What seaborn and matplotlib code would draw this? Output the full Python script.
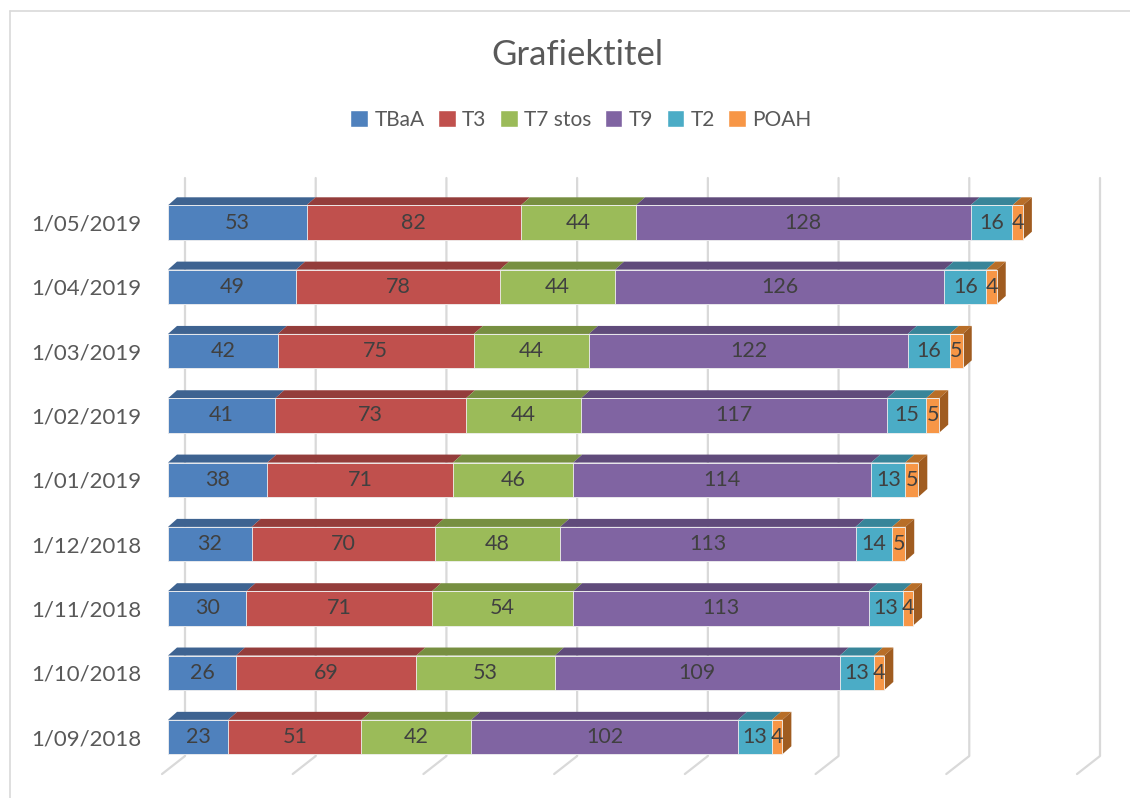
import numpy as np
import pandas as pd
import seaborn as sns
import matplotlib.pyplot as plt
from matplotlib.patches import Polygon, Patch
from matplotlib.lines import Line2D


dates = ['1/05/2019', '1/04/2019', '1/03/2019', '1/02/2019', '1/01/2019',
         '1/12/2018', '1/11/2018', '1/10/2018', '1/09/2018']
series = ['TBaA', 'T3', 'T7 stos', 'T9', 'T2', 'POAH']
tbaa = [53, 49, 42, 41, 38, 32, 30, 26, 23]
t3 = [82, 78, 75, 73, 71, 70, 71, 69, 51]
t7 = [44, 44, 44, 44, 46, 48, 54, 53, 42]
t9 = [128, 126, 122, 117, 114, 113, 113, 109, 102]
t2 = [16, 16, 16, 15, 13, 14, 13, 13, 13]
poah = [4, 4, 5, 5, 5, 5, 4, 4, 4]
grid_vals = [0, 50, 100, 150, 200, 250, 300, 350]

front = ['#4F81BD', '#C0504D', '#9BBB59', '#8064A2', '#4BACC6', '#F79646']
top = ['#3E6391', '#943D3B', '#778F41', '#604B7B', '#388599', '#B86E28']
side = '#A05C20'

sns.set_style("white")
plt.rcParams['font.family'] = ['Lato', 'DejaVu Sans']

df = pd.DataFrame({'date': dates, 'TBaA': tbaa, 'T3': t3, 'T7 stos': t7,
                   'T9': t9, 'T2': t2, 'POAH': poah})
cum = df[series].cumsum(axis=1)

fig = plt.figure(figsize=(11.3, 7.98), dpi=100)
ax = fig.add_axes([168 / 1130, 1 - 775 / 798, 915 / 1130, 597 / 798])

bar_h = 0.535
dx = 9 / 2.614      # depth shift in data units
dy = 8 / 64.3

# back wall gridlines with floor diagonal
y_top, y_wall, y_floor = -0.692, 8.295, 8.575
for v in grid_vals:
    xb = v + 6.5
    ax.add_line(Line2D([xb, xb, v - 2.3], [y_top, y_wall, y_floor],
                       color='#D9D9D9', lw=1.6, clip_on=False, zorder=0))

# stacked bars: draw cumulative totals from last to first
for i in range(len(series) - 1, -1, -1):
    sns.barplot(x=cum[series[i]], y=df['date'], orient='h', color=front[i],
                width=bar_h, saturation=1, edgecolor='#F2F2F2', linewidth=0.6,
                ax=ax, zorder=2)

# 3D top faces, right side face and labels
for j in range(len(dates)):
    yt = j - bar_h / 2
    yb = j + bar_h / 2
    left = 0
    for i, s in enumerate(series):
        val = df.loc[j, s]
        right = left + val
        ax.add_patch(Polygon([(left, yt), (left + dx, yt - dy),
                              (right + dx, yt - dy), (right, yt)],
                             closed=True, facecolor=top[i], edgecolor='none',
                             zorder=1))
        ax.text((left + right) / 2, j, str(val), ha='center', va='center',
                fontsize=15.5, color='#404040', zorder=5)
        left = right
    ax.add_patch(Polygon([(left, yt), (left + dx, yt - dy),
                          (left + dx, yb - dy), (left, yb)],
                         closed=True, facecolor=side, edgecolor='none',
                         zorder=1))

ax.set_xlim(0, 350)
ax.set_ylim(8.59, -0.692)
ax.set_xlabel('')
ax.set_ylabel('')
ax.set_xticks([])
ax.tick_params(axis='y', length=0, labelsize=16, labelcolor='#595959', pad=19)
for lbl in ax.get_yticklabels():
    lbl.set_y(lbl.get_position()[1])
sns.despine(ax=ax, left=True, bottom=True)

fig.text(577 / 1130, 1 - 55 / 798, 'Grafiektitel', ha='center', va='center',
         fontsize=25, color='#595959')

handles = [Patch(facecolor=front[i], label=series[i]) for i in range(len(series))]
fig.legend(handles=handles, loc='center', bbox_to_anchor=(581 / 1130, 1 - 120 / 798),
           ncol=6, frameon=False, fontsize=15, handlelength=0.85,
           handleheight=0.85, handletextpad=0.3, columnspacing=0.65,
           labelcolor='#595959')

# chart area border
fig.add_artist(Line2D([10 / 1130, 10 / 1130], [0, 1 - 11 / 798],
                      color='#D9D9D9', lw=1.2, transform=fig.transFigure))
fig.add_artist(Line2D([10 / 1130, 1], [1 - 11 / 798, 1 - 11 / 798],
                      color='#D9D9D9', lw=1.2, transform=fig.transFigure))

fig.savefig('out.png', dpi=100)
